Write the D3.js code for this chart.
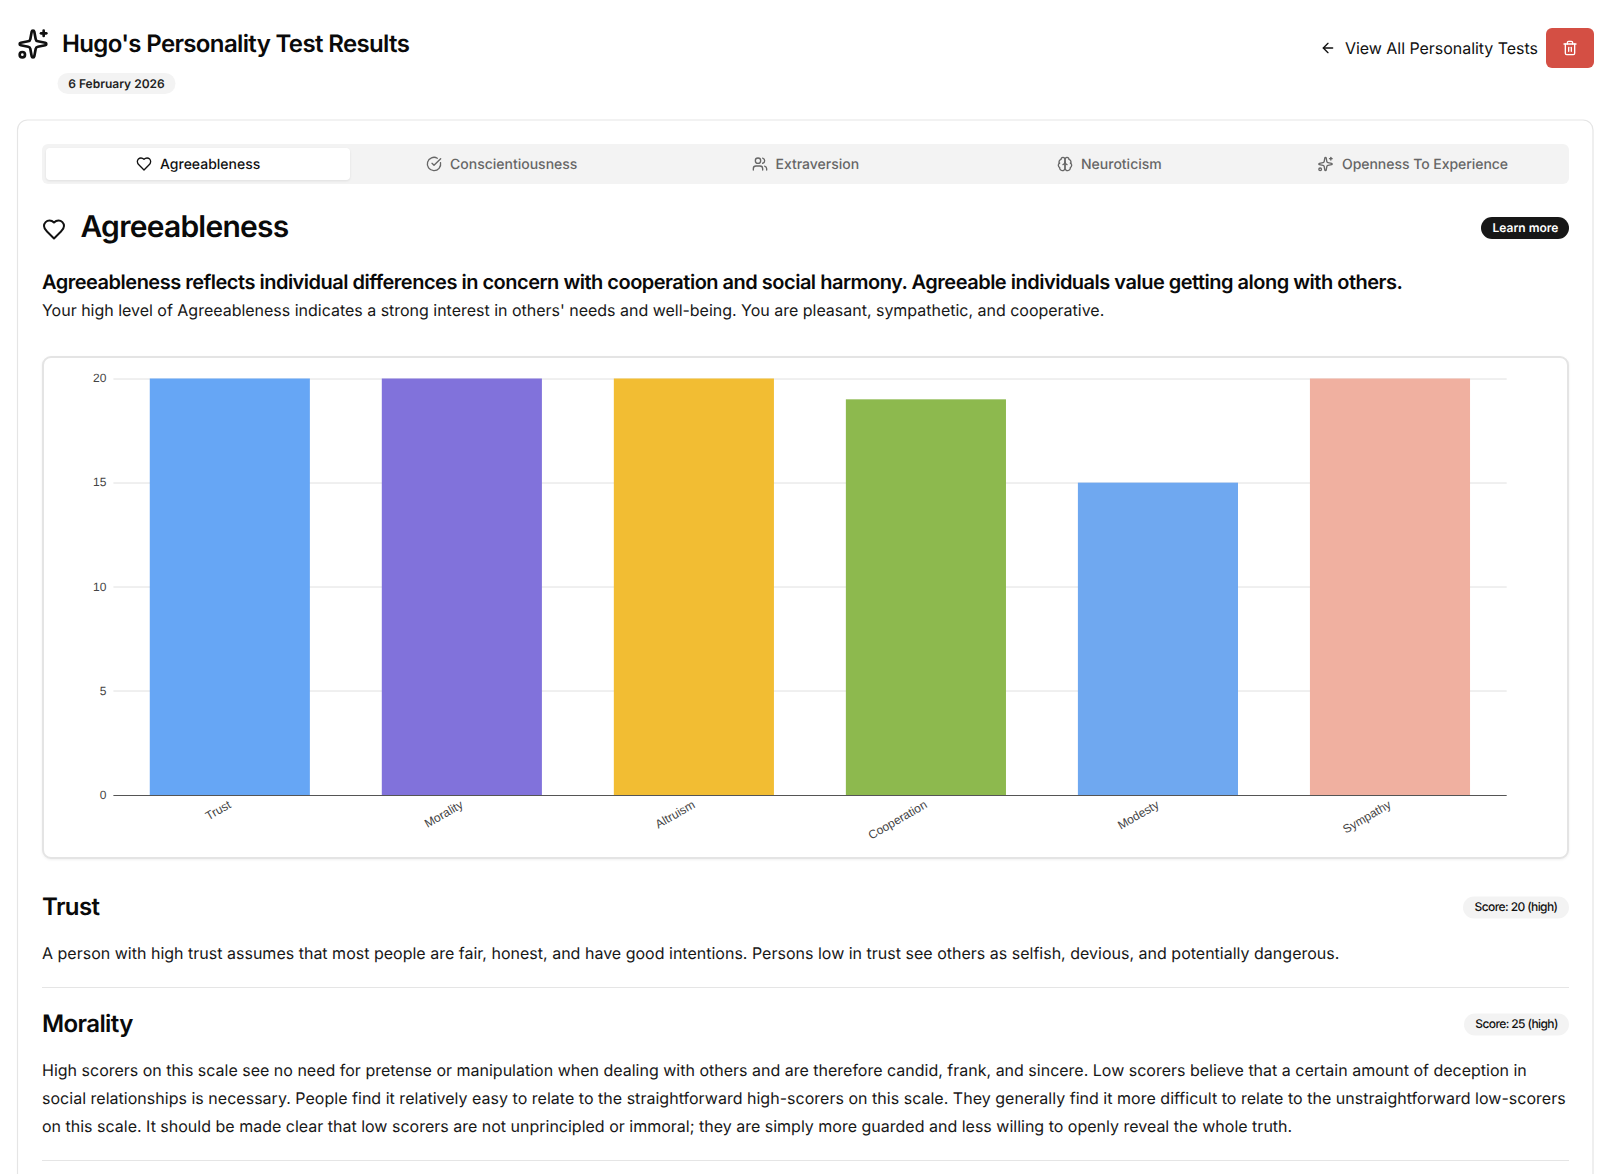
<!DOCTYPE html>
<html><head><meta charset="utf-8">
<script src="https://cdn.jsdelivr.net/npm/d3@7"></script>
<style>html,body{margin:0;padding:0;background:#fff;overflow:hidden}svg{display:block}text{font-family:Inter,sans-serif;text-rendering:geometricPrecision}</style>
</head><body><div id="page"></div>
<script>
const categories=["Trust","Morality","Altruism","Cooperation","Modesty","Sympathy"];
const values=[20,20,20,19,15,20];
const colors=["#66A6F5","#8172DB","#F2BD33","#8DB94E","#6FA8F0","#F0B0A0"];
const yTicks=[0,5,10,15,20];
const tabLabels=["Agreeableness","Conscientiousness","Extraversion","Neuroticism","Openness To Experience"];
const morality=["High scorers on this scale see no need for pretense or manipulation when dealing with others and are therefore candid, frank, and sincere. Low scorers believe that a certain amount of deception in",
"social relationships is necessary. People find it relatively easy to relate to the straightforward high-scorers on this scale. They generally find it more difficult to relate to the unstraightforward low-scorers",
"on this scale. It should be made clear that low scorers are not unprincipled or immoral; they are simply more guarded and less willing to openly reveal the whole truth."];
const moralitySpacing=[0,0.02,0];

const I={
 sparkles:'<path d="M11.017 2.814a1 1 0 0 1 1.966 0l1.051 5.558a2 2 0 0 0 1.594 1.594l5.558 1.051a1 1 0 0 1 0 1.966l-5.558 1.051a2 2 0 0 0-1.594 1.594l-1.051 5.558a1 1 0 0 1-1.966 0l-1.051-5.558a2 2 0 0 0-1.594-1.594l-5.558-1.051a1 1 0 0 1 0-1.966l5.558-1.051a2 2 0 0 0 1.594-1.594z"/><path d="M20 2v4"/><path d="M22 4h-4"/><circle cx="4" cy="20" r="2"/>',
 heart:'<path d="M19 14c1.49-1.46 3-3.21 3-5.5A5.5 5.5 0 0 0 16.5 3c-1.76 0-3 .5-4.5 2-1.5-1.5-2.74-2-4.5-2A5.5 5.5 0 0 0 2 8.5c0 2.3 1.5 4.05 3 5.5l7 7Z"/>',
 check:'<path d="M21.801 10A10 10 0 1 1 17 3.335"/><path d="m9 11 3 3L22 4"/>',
 users:'<path d="M16 21v-2a4 4 0 0 0-4-4H6a4 4 0 0 0-4 4v2"/><circle cx="9" cy="7" r="4"/><path d="M22 21v-2a4 4 0 0 0-3-3.87"/><path d="M16 3.13a4 4 0 0 1 0 7.75"/>',
 brain:'<path d="M12 5a3 3 0 1 0-5.997.125 4 4 0 0 0-2.526 5.77 4 4 0 0 0 .556 6.588A4 4 0 1 0 12 18Z"/><path d="M12 5a3 3 0 1 1 5.997.125 4 4 0 0 1 2.526 5.77 4 4 0 0 1-.556 6.588A4 4 0 1 1 12 18Z"/><path d="M15 13a4.5 4.5 0 0 1-3-4 4.5 4.5 0 0 1-3 4"/><path d="M3.477 10.896a4 4 0 0 1 .585-.396"/><path d="M19.938 10.5a4 4 0 0 1 .585.396"/>',
 arrow:'<path d="m12 19-7-7 7-7"/><path d="M19 12H5"/>',
 trash:'<path d="M3 6h18"/><path d="M19 6v14c0 1-1 2-2 2H7c-1 0-2-1-2-2V6"/><path d="M8 6V4c0-1 1-2 2-2h4c1 0 2 1 2 2v2"/><line x1="10" x2="10" y1="11" y2="17"/><line x1="14" x2="14" y1="11" y2="17"/>'
};
const svg=d3.select("#page").append("svg").attr("width",1617).attr("height",1174);
function icon(name,cx,cy,size,color,sw){
 const g=svg.append("g").attr("transform",`translate(${cx-size/2},${cy-size/2}) scale(${size/24})`)
  .attr("fill","none").attr("stroke",color).attr("stroke-width",sw||2).attr("stroke-linecap","round").attr("stroke-linejoin","round");
 g.html(I[name]);
}
function text(s,x,y,size,weight,color,opts){
 opts=opts||{};
 return svg.append("text").attr("x",x).attr("y",y).attr("font-size",size).attr("font-weight",weight).attr("fill",color)
  .attr("text-anchor",opts.anchor||"start").attr("letter-spacing",opts.ls||null).text(s);
}
function rect(x0,y0,x1,y1,r,fill,stroke,sw){
 return svg.append("rect").attr("x",x0).attr("y",y0).attr("width",x1-x0).attr("height",y1-y0).attr("rx",r).attr("fill",fill).attr("stroke",stroke||"none").attr("stroke-width",sw||0);
}
// header
icon("sparkles",33,44,32,"#111");
text("Hugo's Personality Test Results",62,52,24,600,"#0a0a0a",{ls:"-0.64"});
rect(57.5,73,175.5,94,10.5,"#f3f3f3");
text("6 February 2026",116.5,88,12,600,"#222",{anchor:"middle"});
icon("arrow",1328,48,16,"#111");
text("View All Personality Tests",1345,54,16,400,"#111",{ls:"-0.04"});
rect(1546,28,1594,68,6,"#D44F44");
icon("trash",1570,48,16,"#fff");
// card
rect(17.5,120,1593,1300,10,"#fff","#e5e5e5",1.2);
// tabs
rect(42,144,1569,184,6,"#f3f3f3");
rect(46,148,350,180,4,"#fff").style("filter","drop-shadow(0 1px 1px rgba(0,0,0,.08))");
const tabIcon=["heart","check","users","brain","sparkles"];
const tabIconX=[144,434,760,1065,1325.5];
const tabTextX=[160,450,775.5,1081,1342];
tabLabels.forEach((t,i)=>{
 const c=i===0?"#111":"#666";
 icon(tabIcon[i],tabIconX[i],164,16,i===0?"#111":"#666");
 text(t,tabTextX[i],169,14,500,c,{ls:i===4?"-0.04":null});
});
// section heading
icon("heart",54,229.5,24,"#111");
text("Agreeableness",80.5,237,30,600,"#0a0a0a",{ls:"-0.75"});
rect(1481,217,1569,239,11,"#171717");
text("Learn more",1525.5,232,12,600,"#fff",{anchor:"middle"});
text("Agreeableness reflects individual differences in concern with cooperation and social harmony. Agreeable individuals value getting along with others.",42,289,20,600,"#0a0a0a",{ls:"-0.5"});
text("Your high level of Agreeableness indicates a strong interest in others' needs and well-being. You are pleasant, sympathetic, and cooperative.",42,315.7,16,400,"#171717",{ls:"-0.015"});
// chart box
rect(43,357,1568,858,8,"#fff","#e4e4e4",2).style("filter","drop-shadow(0 1px 1px rgba(0,0,0,.06))");
const x=d3.scaleBand().domain(categories).range([113.8,1506]).paddingInner(0.31).paddingOuter(0.155);
const y=d3.scaleLinear().domain([0,20]).range([795,378.5]);
const gridG=svg.append("g");
gridG.selectAll("line").data(yTicks.filter(d=>d>0)).join("line")
 .attr("x1",113.4).attr("x2",1506.7).attr("y1",d=>Math.round(y(d))).attr("y2",d=>Math.round(y(d))).attr("stroke","#e0e0e0");
svg.append("g").selectAll("rect").data(categories).join("rect")
 .attr("x",d=>x(d)).attr("width",x.bandwidth())
 .attr("y",(d,i)=>y(values[i])).attr("height",(d,i)=>y(0)-y(values[i])).attr("fill",(d,i)=>colors[i]);
const xAxis=svg.append("g").attr("transform","translate(0,795)").call(d3.axisBottom(x).tickSize(0));
xAxis.select(".domain").attr("stroke","#555").attr("d","M113.4,0.5H1506.7");
xAxis.selectAll("text").style("font-family","'Liberation Sans',Arial,sans-serif").attr("font-size",12).attr("fill","#444")
 .attr("text-anchor","end").attr("dy",null).attr("y",0).attr("x",0).attr("transform","translate(2,12) rotate(-30)");
const yAxis=svg.append("g").attr("transform","translate(113.4,-0.5)").call(d3.axisLeft(y).tickValues(yTicks).tickSize(0).tickPadding(7));
yAxis.select(".domain").remove();
yAxis.selectAll("text").style("font-family","'Liberation Sans',Arial,sans-serif").attr("font-size",12).attr("fill","#444");
// details
text("Trust",42,915,24,600,"#0a0a0a",{ls:"-0.6"});
rect(1463,896.5,1569,918.5,11,"#f3f3f3");
text("Score: 20 (high)",1516,911.2,12,500,"#111",{anchor:"middle",ls:"-0.6"});
text("A person with high trust assumes that most people are fair, honest, and have good intentions. Persons low in trust see others as selfish, devious, and potentially dangerous.",42,959,16,400,"#171717",{ls:"0.006"});
svg.append("line").attr("x1",42).attr("x2",1569).attr("y1",987.5).attr("y2",987.5).attr("stroke","#e5e5e5");
text("Morality",42,1032,24,600,"#0a0a0a",{ls:"-0.6"});
rect(1464,1013.5,1569,1035.5,11,"#f3f3f3");
text("Score: 25 (high)",1516.5,1028.2,12,500,"#111",{anchor:"middle",ls:"-0.6"});
morality.forEach((l,i)=>text(l,42,1076+28*i,16,400,"#171717",{ls:moralitySpacing[i]||null}));
svg.append("line").attr("x1",42).attr("x2",1569).attr("y1",1160.5).attr("y2",1160.5).attr("stroke","#e5e5e5");
</script></body></html>
